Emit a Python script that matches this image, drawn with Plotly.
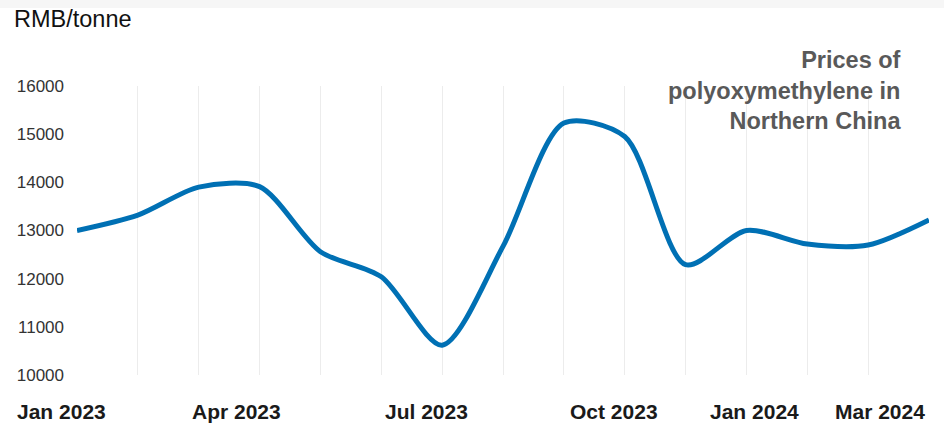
import plotly.graph_objects as go

# ---- data ----
months = ["Jan 2023", "Feb 2023", "Mar 2023", "Apr 2023", "May 2023", "Jun 2023",
          "Jul 2023", "Aug 2023", "Sep 2023", "Oct 2023", "Nov 2023", "Dec 2023",
          "Jan 2024", "Feb 2024", "Mar 2024"]
prices = [13000, 13320, 13900, 13910, 12560, 12040, 10620, 12670,
          15230, 14950, 12290, 13000, 12720, 12700, 13220]
x_labels = ["Jan 2023", "Apr 2023", "Jul 2023", "Oct 2023", "Jan 2024", "Mar 2024"]
x_label_pos = [-0.256, 2.626, 5.75, 8.82, 11.13, 13.2]   # in month-index units
y_ticks = [10000, 11000, 12000, 13000, 14000, 15000, 16000]
y_ticktext = [str(v) for v in y_ticks]

FONT = "Liberation Sans, Arial, sans-serif"
idx = list(range(len(months)))
x_max = len(months) - 1

fig = go.Figure()
fig.add_trace(go.Scatter(
    x=idx, y=prices, mode="lines",
    line=dict(color="#0070b4", width=5, shape="spline", smoothing=0.8),
    hoverinfo="skip", showlegend=False,
))

annotations = []
for lab, pos in zip(x_labels, x_label_pos):
    annotations.append(dict(
        x=pos / x_max, xref="paper", y=-0.128, yref="paper", text=lab, showarrow=False,
        xanchor="center", yanchor="middle",
        font=dict(family=FONT, size=21, color="#1a1a1a", weight="bold"),
    ))
annotations.append(dict(
    x=-0.0765, xref="paper", y=1.232, yref="paper", text="RMB/tonne",
    showarrow=False, xanchor="left", yanchor="middle",
    font=dict(family=FONT, size=23.5, color="#111111"),
))
annotations.append(dict(
    x=0.970, xref="paper", y=0.983, yref="paper",
    text="Prices of<br>polyoxymethylene in<br>Northern China",
    showarrow=False, xanchor="right", yanchor="middle", align="right",
    font=dict(family=FONT, size=23.5, color="#595959", weight="bold"),
))

fig.update_layout(
    width=944, height=425,
    margin=dict(l=77, r=15, t=86, b=50),
    paper_bgcolor="white", plot_bgcolor="white",
    xaxis=dict(
        range=[0, x_max], tickvals=idx, showticklabels=False,
        showgrid=True, gridcolor="#ececec", gridwidth=1,
        zeroline=False, showline=False, ticks="", fixedrange=True,
    ),
    yaxis=dict(
        range=[10000, 16000], tickvals=y_ticks, ticktext=y_ticktext, showgrid=False,
        zeroline=False, showline=False, ticks="", ticklabelstandoff=12,
        tickfont=dict(family=FONT, size=17, color="#333333"),
    ),
    annotations=annotations,
    shapes=[dict(type="rect", xref="paper", yref="paper",
                 x0=-0.1, x1=1.02, y0=1.27, y1=1.34,
                 fillcolor="#f6f6f6", line=dict(width=0), layer="below")],
)

fig.write_html("out.html")
